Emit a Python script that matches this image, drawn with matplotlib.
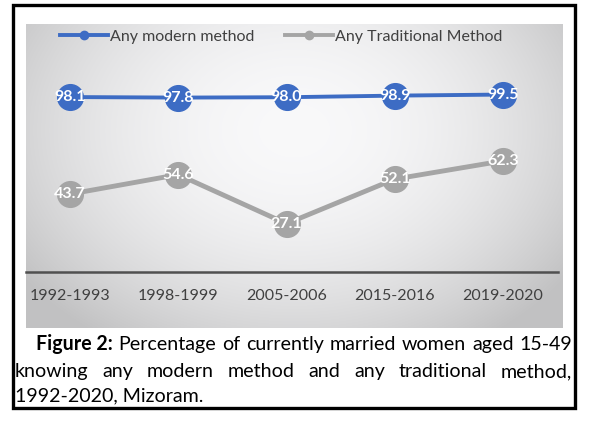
import numpy as np
import matplotlib
matplotlib.use("Agg")
import matplotlib.pyplot as plt
from matplotlib.patches import Rectangle
from matplotlib.lines import Line2D

categories = ["1992-1993", "1998-1999", "2005-2006", "2015-2016", "2019-2020"]
modern = [98.1, 97.8, 98.0, 98.9, 99.5]
traditional = [43.7, 54.6, 27.1, 52.1, 62.3]
series_names = ["Any modern method", "Any Traditional Method"]
caption_bold = "Figure 2:"
caption_line1 = "Percentage of currently married women aged 15-49"
caption_line2 = "knowing any modern method and any traditional method,"
caption_line3 = "1992-2020, Mizoram."

FONT = "Lato"
W, H = 605, 422
fig = plt.figure(figsize=(W / 100, H / 100), dpi=100)
fig.patch.set_facecolor("white")

def fx(px):
    return px / W

def fy(py):
    return 1 - py / H

# background panel with radial gradient
bg = fig.add_axes([fx(26), fy(328), fx(563) - fx(26), fy(24) - fy(328)])
yy, xx = np.mgrid[0:1:300j, 0:1:540j]
d = np.sqrt(((xx - 0.5) / 0.6) ** 2 + ((yy - 0.35) / 0.8) ** 2)
vals = np.clip(0.975 - 0.2 * d ** 2.0, 0.76, 0.98)
img = np.dstack([vals, vals, vals * 1.005])
img = np.clip(img, 0, 1)
bg.imshow(img, aspect="auto", extent=[0, 1, 0, 1], origin="upper")
bg.set_axis_off()

# main axes
x = np.arange(len(categories))
ax = fig.add_axes([fx(26), fy(272), fx(558) - fx(26), fy(58) - fy(272)])
ax.patch.set_alpha(0)
step = 108.25
x0 = 70
ax.set_xlim((26 - x0) / step, (558 - x0) / step)
ax.set_ylim(0, 120)

blue = "#3D6CC4"
gray = "#A5A5A5"
ax.plot(x, modern, color=blue, lw=2.8, marker="o", ms=18.5, mec=blue, mfc=blue, zorder=3, clip_on=False)
ax.plot(x, traditional, color=gray, lw=3.5, marker="o", ms=18.5, mec=gray, mfc=gray, zorder=3, clip_on=False)
for xi, v in zip(x, modern):
    ax.text(xi, v, f"{v:.1f}", color="white", ha="center", va="center", fontsize=11.5,
            fontweight="bold", family=FONT, zorder=4)
for xi, v in zip(x, traditional):
    ax.text(xi, v, f"{v:.1f}", color="white", ha="center", va="center", fontsize=11.5,
            fontweight="bold", family=FONT, zorder=4)

for s in ["top", "right", "left"]:
    ax.spines[s].set_visible(False)
ax.spines["bottom"].set_color("#505050")
ax.spines["bottom"].set_linewidth(1.8)
ax.set_yticks([])
ax.set_xticks(x)
ax.set_xticklabels(categories, fontsize=11.5, color="#404040", family=FONT)
ax.tick_params(axis="x", length=0, pad=12)

# legend
h1 = Line2D([], [], color=blue, lw=2.8, marker="o", ms=6)
h2 = Line2D([], [], color=gray, lw=2.8, marker="o", ms=6)
leg = fig.legend([h1, h2], series_names, loc="center", bbox_to_anchor=(fx(281), fy(37)),
                 ncol=2, frameon=False, prop={"family": FONT, "size": 11.5},
                 handlelength=3.0, handletextpad=0.15, columnspacing=1.9,
                 labelcolor="#404040")

# border
fig.patches.append(Rectangle((fx(13), fy(408)), fx(575) - fx(13), fy(5) - fy(408),
                             transform=fig.transFigure, fill=False, ec="black", lw=2.4))

# caption (justified)
fig.canvas.draw()
renderer = fig.canvas.get_renderer()

def width_px(s, size, bold=False):
    t = fig.text(0, 0, s, fontweight="bold" if bold else "normal", family=FONT, size=size)
    w = t.get_window_extent(renderer).width
    t.remove()
    return w

# fit caption size so the first line fills its width at normal spacing
base = 10
full1 = width_px(caption_bold + " ", base, True) + width_px(caption_line1, base)
cap_size = base * (573 - 36) / full1 * 0.985
cap_font = {"family": FONT, "size": cap_size, "color": "black"}

def justify(words, left, right, ypx, bolds=None):
    if bolds is None:
        bolds = [False] * len(words)
    widths = [width_px(w, cap_size, b) for w, b in zip(words, bolds)]
    gap = (right - left - sum(widths)) / (len(words) - 1)
    xpos = left
    for w, b, wd in zip(words, bolds, widths):
        fig.text(fx(xpos), fy(ypx), w, fontweight="bold" if b else "normal",
                 va="baseline", ha="left", **cap_font)
        xpos += wd + gap

words1 = [caption_bold] + caption_line1.split()
bolds1 = [True] + [False] * len(caption_line1.split())
justify(words1, 36, 572, 350, bolds1)
justify(caption_line2.split(), 15, 572, 377)
fig.text(fx(15), fy(401), caption_line3, va="baseline", ha="left", **cap_font)

fig.savefig("out.png", dpi=100)
